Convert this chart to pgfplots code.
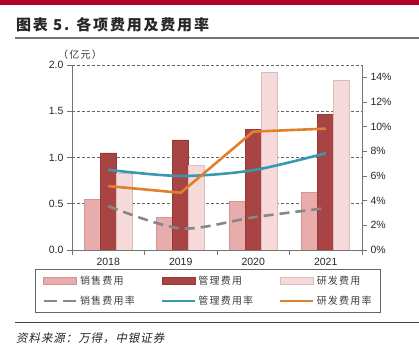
\documentclass[border=0pt]{standalone}
\usepackage{pgfplots}
\pgfplotsset{compat=1.18}
\usepackage{fontspec}
\setmainfont{Liberation Sans}
\newfontfamily\cjk{Noto Sans CJK SC}
\newfontfamily\cjkls[LetterSpace=12]{Noto Sans CJK SC}
\newfontfamily\cjkit[FakeSlant=0.2, LetterSpace=8]{Noto Sans CJK SC}
\definecolor{topred}{HTML}{B0002A}
\definecolor{sales}{HTML}{E8ACAC}
\definecolor{salesedge}{HTML}{D49494}
\definecolor{mgmt}{HTML}{A84444}
\definecolor{mgmtedge}{HTML}{963838}
\definecolor{rnd}{HTML}{F6DADA}
\definecolor{rndedge}{HTML}{D9BDBD}
\definecolor{bluel}{HTML}{3A98AE}
\definecolor{orangel}{HTML}{E0802F}
\definecolor{grayl}{HTML}{878787}
\pgfplotsset{
  linelegend/.style={legend image code/.code={\draw[##1] (0bp,0bp) -- (33bp,0bp);}},
  dashlegend/.style={legend image code/.code={\draw[##1, dash pattern=on 13bp off 6bp] (0bp,0bp) -- (33bp,0bp);}},
  barlegend/.style={legend image code/.code={\draw[##1] (0bp,-3.5bp) rectangle (33bp,3.5bp);}},
}
\begin{document}
\begin{tikzpicture}[x=1bp,y=1bp]
\path[use as bounding box] (0,0) rectangle (419,356);
\fill[topred] (0,350.5) rectangle (419,356);
\node[anchor=west, inner sep=0pt, text=black!85] at (16,331) {\fontsize{15bp}{17bp}\selectfont\cjkls\bfseries 图表 5. 各项费用及费用率};
\draw[black!55, line width=1.2bp] (15,318) -- (419,318);
\draw[black!75, line width=1bp] (15,33) -- (419,33);
\node[anchor=west, inner sep=0pt, text=black!85] at (16,18) {\fontsize{11.5bp}{13bp}\selectfont\cjkit 资料来源：万得，中银证券};
\node[anchor=west, inner sep=0pt, text=black!80] at (58,301) {\fontsize{10bp}{11bp}\selectfont\cjkls （亿元）};

\begin{axis}[
  at={(72bp,106bp)}, anchor=south west,
  scale only axis, width=290bp, height=185bp,
  xmin=-0.5, xmax=3.5, ymin=0, ymax=2,
  axis x line*=bottom, axis y line*=left,
  axis line style={-, black!55, line width=0.8bp},
  xtick={0,1,2,3}, xticklabels={2018,2019,2020,2021},
  major x tick style={draw=none},
  minor xtick={-0.5,0.5,1.5,2.5,3.5},
  minor x tick style={black!55, line width=0.8bp},
  minor tick length=5bp,
  ytick={0,0.5,1,1.5,2},
  yticklabel style={/pgf/number format/.cd, fixed, fixed zerofill, precision=1},
  major tick length=5bp,
  tick align=outside,
  ytick style={black!55, line width=0.8bp},
  ymajorgrids, grid style={densely dashed, black!60, line width=0.6bp},
  /pgf/number format/assume math mode=true,
  tick label style={font=\fontsize{10.5bp}{12bp}\selectfont, text=black!85},
  ybar=0pt, bar width=16bp,
]
\addplot[fill=sales, draw=salesedge, line width=0.6bp] coordinates {(0,0.55) (1,0.35) (2,0.527) (3,0.62)};
\addplot[fill=mgmt, draw=mgmtedge, line width=0.6bp] coordinates {(0,1.05) (1,1.19) (2,1.30) (3,1.47)};
\addplot[fill=rnd, draw=rndedge, line width=0.6bp] coordinates {(0,0.83) (1,0.915) (2,1.92) (3,1.83)};
\end{axis}

\begin{axis}[
  at={(72bp,106bp)}, anchor=south west,
  scale only axis, width=290bp, height=185bp,
  xmin=-0.5, xmax=3.5, ymin=0, ymax=15,
  axis y line*=right, axis x line=none,
  axis line style={-, black!55, line width=0.8bp},
  ytick={0,2,...,14},
  yticklabel={\pgfmathprintnumber{\tick}\%},
  major tick length=5bp, tick align=outside,
  ytick style={black!55, line width=0.8bp},
  /pgf/number format/assume math mode=true,
  tick label style={font=\fontsize{10.5bp}{12bp}\selectfont, text=black!85},
  legend columns=3,
  legend style={at={(axis description cs:0.469,-0.105)}, anchor=north,
    draw=black!60, line width=0.6bp, inner xsep=7bp, inner ysep=4.5bp,
    font=\fontsize{10bp}{12bp}\selectfont\cjkls, text=black!75,
    /tikz/every even column/.append style={column sep=24bp},
    row sep=6bp},
  legend cell align=left,
]
\addlegendimage{barlegend, fill=sales, draw=salesedge, line width=0.6bp}
\addlegendentry{销售费用}
\addlegendimage{barlegend, fill=mgmt, draw=mgmtedge, line width=0.6bp}
\addlegendentry{管理费用}
\addlegendimage{barlegend, fill=rnd, draw=rndedge, line width=0.6bp}
\addlegendentry{研发费用}
\addplot[grayl, line width=2.6bp, dash pattern=on 10bp off 6bp, smooth, tension=0.5, dashlegend]
  coordinates {(0,3.56) (1,1.75) (2,2.65) (3,3.4)};
\addlegendentry{销售费用率}
\addplot[bluel, line width=2.6bp, smooth, tension=0.5, linelegend]
  coordinates {(0,6.5) (1,6.0) (2,6.47) (3,7.85)};
\addlegendentry{管理费用率}
\addplot[orangel, line width=2.6bp, linelegend]
  coordinates {(0,5.18) (1,4.64) (2,9.6) (3,9.84)};
\addlegendentry{研发费用率}
\end{axis}
\end{tikzpicture}
\end{document}
